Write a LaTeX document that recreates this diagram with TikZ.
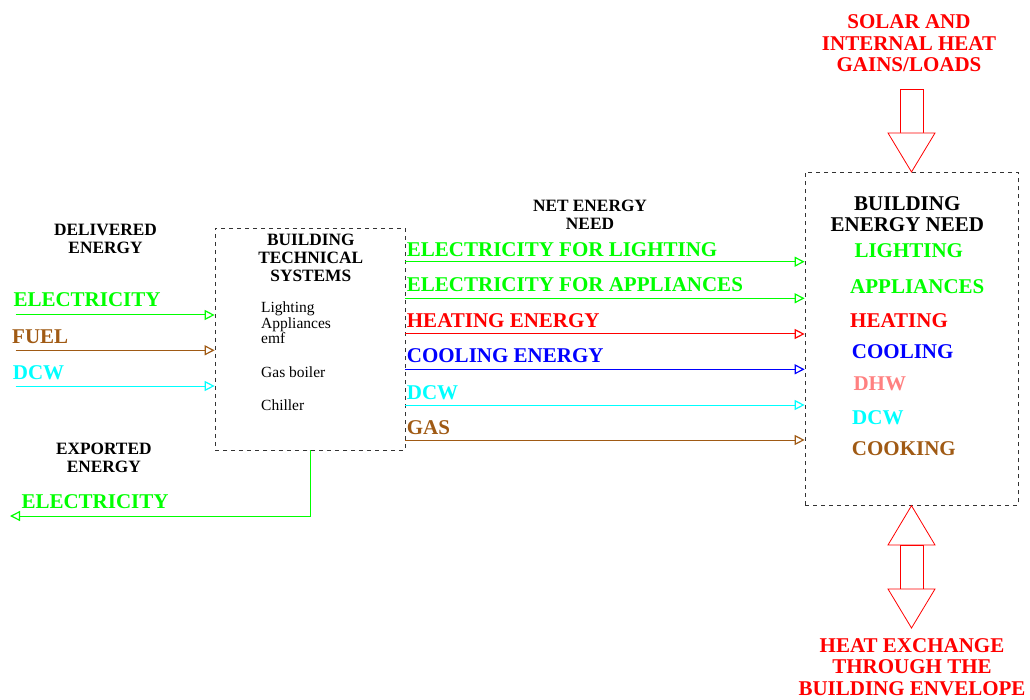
\documentclass[tikz,border=0pt]{standalone}
\usepackage{fontspec}
\setmainfont{Liberation Serif}
\usepackage{tikz}
\usetikzlibrary{arrows.meta, positioning, calc}

\definecolor{elgreen}{RGB}{0,255,0}
\definecolor{fuelbrown}{RGB}{160,90,20}
\definecolor{dcwcyan}{RGB}{0,255,255}
\definecolor{dhwpink}{RGB}{255,128,128}

\tikzset{
	sysbox/.style={draw=black!80, dash pattern=on 4pt off 4pt, line width=0.7pt, inner sep=0pt},
	blacktitle/.style={font=\fontsize{17.3}{18}\selectfont\bfseries, align=center, inner sep=0pt},
	bigtitle/.style={font=\fontsize{21}{21.7}\selectfont\bfseries, align=center, inner sep=0pt},
	flowlbl/.style={font=\fontsize{21}{22}\selectfont\bfseries, anchor=west, inner sep=0pt},
	sysitem/.style={font=\fontsize{15.5}{16}\selectfont, anchor=base west, inner sep=0pt},
	flow/.style={line width=1pt, -{Triangle[open,length=10pt,width=10pt,line width=1.2pt]}},
	heatarrow/.style={draw=red, line width=0.8pt, fill=white}
}

\begin{document}
\begin{tikzpicture}[x=1pt, y=-1pt]
	\useasboundingbox (0,0) rectangle (1030,700);

	% the two system boxes
	\node[sysbox, minimum width=190pt, minimum height=222pt] (bts) at (310,339) {};
	\node[sysbox, minimum width=213pt, minimum height=333pt] (ben) at (911.5,338.8) {};

	% building technical systems
	\node[blacktitle] (btstitle) at (310.8,257.5) {BUILDING\\TECHNICAL\\SYSTEMS};
	\node[sysitem] (lighting) at (261,313) {Lighting};
	\node[sysitem] (appliances) at (261,328.3) {Appliances};
	\node[sysitem] (emf) at (261,344) {emf};
	\node[sysitem] (boiler) at (261,377.7) {Gas boiler};
	\node[sysitem] (chiller) at (261,410.7) {Chiller};

	% delivered energy
	\node[blacktitle] (delivered) at (105.5,238.5) {DELIVERED\\ENERGY};
	\node[flowlbl, text=elgreen] (inelec) at (13.3,299.3) {ELECTRICITY};
	\node[flowlbl, text=fuelbrown] (infuel) at (12,336.3) {FUEL};
	\node[flowlbl, text=dcwcyan] (indcw) at (12.7,372.7) {DCW};
	\coordinate (inelecstart) at (15.7,315);
	\coordinate (infuelstart) at (15.7,350.3);
	\coordinate (indcwstart) at (15.7,386);
	\draw[flow, elgreen] (inelecstart) -- (bts.west |- inelecstart);
	\draw[flow, fuelbrown] (infuelstart) -- (bts.west |- infuelstart);
	\draw[flow, dcwcyan] (indcwstart) -- (bts.west |- indcwstart);

	% exported energy
	\node[blacktitle] (exported) at (103.8,457.8) {EXPORTED\\ENERGY};
	\node[flowlbl, text=elgreen] (outelec) at (21.3,501.3) {ELECTRICITY};
	\coordinate (outelecend) at (10,516);
	\draw[flow, elgreen] (bts.south) |- (outelecend);

	% net energy need
	\node[blacktitle] (netneed) at (590,215) {NET ENERGY\\NEED};
	\foreach \name/\ylbl/\yarr/\col/\txt in {
		nlight/249.3/261.7/elgreen/ELECTRICITY FOR LIGHTING,
		nappl/284.7/298.3/elgreen/ELECTRICITY FOR APPLIANCES,
		nheat/320.3/334/red/HEATING ENERGY,
		ncool/356/369.3/blue/COOLING ENERGY,
		ndcw/392.5/405/dcwcyan/DCW,
		ngas/427.7/440/fuelbrown/GAS}{
		\node[flowlbl, text=\col] (\name) at (406.7,\ylbl) {\txt};
		\coordinate (\name a) at (bts.east |- 0,\yarr);
		\draw[flow, \col] (\name a) -- (ben.west |- \name a);
	}

	% building energy need
	\node[bigtitle] (bentitle) at (907.3,214.2) {BUILDING\\ENERGY NEED};
	\node[flowlbl, text=elgreen] (blight) at (854.3,250.3) {LIGHTING};
	\node[flowlbl, text=elgreen] (bappl) at (850,287) {APPLIANCES};
	\node[flowlbl, text=red] (bheat) at (850,320.3) {HEATING};
	\node[flowlbl, text=blue] (bcool) at (851.7,352) {COOLING};
	\node[flowlbl, text=dhwpink] (bdhw) at (853.3,383.3) {DHW};
	\node[flowlbl, text=dcwcyan] (bdcw) at (852,417.8) {DCW};
	\node[flowlbl, text=fuelbrown] (bcook) at (851.7,448.8) {COOKING};

	% gains and envelope
	\node[bigtitle, text=red] (gains) at (909,43.3) {SOLAR AND\\INTERNAL HEAT\\GAINS/LOADS};
	\draw[heatarrow] (900,89) rectangle (923,133);
	\draw[heatarrow] (888,133) -- (935,133) -- (ben.north) -- cycle;

	\draw[heatarrow] (888,545) -- (935,545) -- (ben.south) -- cycle;
	\draw[heatarrow] (900,545) rectangle (923,589);
	\draw[heatarrow] (888,589) -- (935,589) -- (911.5,628) -- cycle;
	\node[bigtitle, text=red] (envelope) at (912,667.2) {HEAT EXCHANGE\\THROUGH THE\\BUILDING ENVELOPE};
\end{tikzpicture}
\end{document}
